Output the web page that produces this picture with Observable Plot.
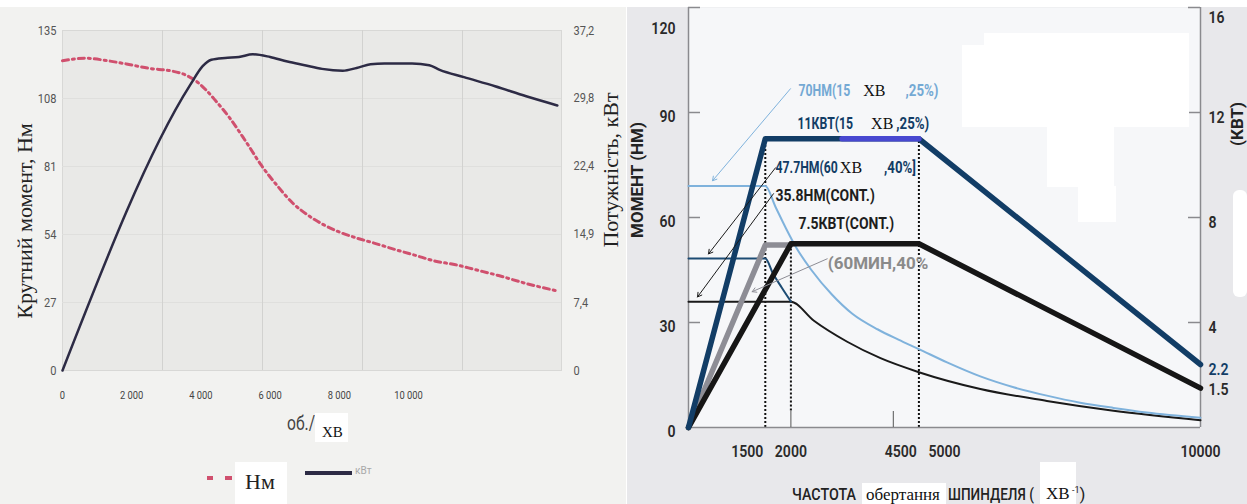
<!DOCTYPE html>
<html><head><meta charset="utf-8">
<script src="https://cdn.jsdelivr.net/npm/d3@7"></script>
<script src="https://cdn.jsdelivr.net/npm/@observablehq/plot@0.6"></script>
<style>
body{margin:0;background:#fff;}
#root{position:relative;width:1247px;height:504px;overflow:hidden;background:#fff;}
.abs{position:absolute;white-space:nowrap;line-height:1;}
.narrow{font-family:Roboto,"Liberation Sans",sans-serif;}
.serif{font-family:"Liberation Serif","DejaVu Serif",serif;}
.rot{transform:translate(-50%,-50%) rotate(-90deg);}
.cond{transform:scaleX(0.84);transform-origin:0 50%;}
.box{position:absolute;background:#fff;}
</style></head>
<body><div id="root">
<div id="left" style="position:absolute;left:0;top:7px;width:626px;height:497px"></div>
<div id="right" style="position:absolute;left:627px;top:7px;width:620px;height:497px"></div>
</div>
<script>
// ---------- LEFT CHART DATA ----------
const leftRpmTicks = [0, 2000, 4000, 6000, 8000, 10000];
const torqueTicks = [0, 27, 54, 81, 108, 135];
const powerTicks = [0, 7.4, 14.9, 22.4, 29.8, 37.2];
const leftGridRpm = [2890, 5780, 8670, 11560];
const torqueRpm = [0, 660, 1300, 1850, 2540, 3120, 3580, 3870, 4160, 4420, 4830, 5290, 5750, 6210, 6650, 7110, 7570, 8030, 8500, 9050, 9620, 10200, 10780, 11360, 11910, 12600, 13410, 14300];
const torqueNm = [123, 124, 123, 121.7, 119.9, 119, 117.2, 114.8, 111.2, 107.2, 100.3, 91.1, 81.4, 73.3, 66.5, 61.5, 57.7, 54.8, 52.6, 50.4, 48, 45.7, 43.4, 42, 40.1, 37.7, 34.5, 31.6];
const powerRpm = [0, 3700, 4050, 4300, 4700, 5100, 5500, 6000, 6500, 7000, 7500, 8100, 8500, 8900, 9300, 10100, 10600, 10900, 11600, 12500, 13400, 14300];
const powerKw = [0, 31.3, 33.3, 34.0, 34.2, 34.3, 34.6, 34.3, 33.8, 33.4, 33.0, 32.8, 33.1, 33.5, 33.6, 33.6, 33.4, 32.9, 32.1, 31.1, 30.0, 29.0];

// ---------- RIGHT CHART DATA ----------
const rightRpmTicksEnd = [1500, 4500];
const rightRpmTicksMid = [2000, 5000, 10000];
const rightMinorRpm = [2000, 4000];
const rightNmTicks = [0, 30, 60, 90, 120];
const rightKwTicks = [4, 8, 12, 16];
const s3PowerRpm = [0, 1500, 4500, 10000];
const s3PowerKw = [0, 11, 11, 2.4];
const s3HighlightRpm = [3000, 4500];
const s3HighlightKw = [11, 11];
const s6PowerRpm = [0, 1500, 2000];
const s6PowerKw = [0, 6.95, 6.95];
const s1PowerRpm = [0, 2000, 4500, 10000];
const s1PowerKw = [0, 7.0, 7.0, 1.5];
const s3TorqueRpm = [0, 1500, 1700, 1900, 2100, 2400, 2800, 3200, 3700, 4100, 4500, 5050, 5700, 6350, 7000, 7650, 8300, 8950, 10000];
const s3TorqueNm = [69, 69, 63, 57, 51.5, 45, 38, 32.5, 28, 25.1, 22.4, 18.6, 14.6, 11.5, 9.1, 7.1, 5.6, 4.3, 2.8];
const s6TorqueRpm = [0, 1500, 1650, 1820, 2000];
const s6TorqueNm = [48.3, 48.3, 44, 40, 36];
const s1TorqueRpm = [0, 2000, 2450, 3100, 3750, 4500, 5700, 7000, 8300, 10000];
const s1TorqueNm = [35.9, 35.9, 30.5, 24.5, 19.8, 15.8, 11, 7.6, 4.8, 2.1];
const guideRpm = [1500, 2000, 4500];
const guideTopKw = [11, 7.0, 11];
const guideBottomNm = [0, 4.7, 0];
const endLabelsKw = [2.2, 1.5];
const seriesNames = ["S3 power", "S3 torque", "S6 power", "S6 torque", "S1 power", "S1 torque"];
// annotations (anchored in rpm / Nm)
const noteText = ["70НМ(15 ХВ ,25%)", "11КВТ(15 ХВ,25%)", "47.7НМ(60ХВ ,40%]", "35.8НМ(CONT.)", "7.5КВТ(CONT.)", "(60МИН,40%"];
const noteSeries = ["S3 torque", "S3 power", "S6 torque", "S1 torque", "S1 power", "S6 power"];
const noteRpm = [2150, 2130, 1700, 1700, 2150, 2720];
const noteNm = [96.3, 86.9, 74.3, 66.3, 58.3, 46.9];
const arrowSeries = ["S3 torque", "S6 torque", "S1 torque", "S6 power"];
const arrowFromRpm = [1992, 1699, 1660, 2709];
const arrowFromNm = [96.8, 74.2, 66.8, 48.2];
const arrowToRpm = [469, 391, 176, 1244];
const arrowToNm = [70.5, 49.6, 37.3, 38.8];

const SANS = 'Roboto,"Liberation Sans",sans-serif';
const SERIF = '"Liberation Serif","DejaVu Serif",serif';
const rows = (xs, vs, series) => xs.map((x, i) => ({x, v: vs[i], series}));

// ---------- LEFT PLOT ----------
const KL = 135 / 37.2;
const fmtKw = v => (Math.abs(v) < 1e-9 ? "0" : (Math.round(v * 10) / 10).toFixed(1).replace(".", ","));
const leftPlot = Plot.plot({
  width: 626, height: 497,
  marginLeft: 62, marginRight: 65, marginTop: 23, marginBottom: 134,
  style: {background: "#f2f2f0", fontFamily: SANS, overflow: "visible"},
  x: {domain: [0, 14420]},
  y: {domain: [0, 135]},
  marks: [
    Plot.frame({fill: "#e9e9e7", stroke: "#d8d8d6"}),
    Plot.ruleY(torqueTicks.slice(1, -1), {stroke: "#dfdfdd"}),
    Plot.ruleX(leftGridRpm, {stroke: "#d2d2d0"}),
    Plot.axisY({ticks: torqueTicks, tickSize: 0, tickPadding: 6, fontSize: 13, fill: "#555", label: null}),
    Plot.axisY({anchor: "right", ticks: powerTicks.map(v => v * KL), tickFormat: d => fmtKw(d / KL), tickSize: 0, tickPadding: 12, fontSize: 13, fill: "#555", label: null}),
    Plot.axisX({ticks: leftRpmTicks, tickFormat: d => d3.format(",")(d).replace(/,/g, " "), tickSize: 0, tickPadding: 21, fontSize: 11, fill: "#444", label: null}),
    Plot.line(rows(torqueRpm, torqueNm, "Нм"), {x: "x", y: "v", stroke: "#d0506e", strokeWidth: 3, strokeDasharray: "6 4 2 4", curve: "monotone-x"}),
    Plot.line(rows(powerRpm, powerKw, "кВт"), {x: "x", y: d => d.v * KL, stroke: "#2d2b45", strokeWidth: 2.5, curve: "monotone-x"})
  ]
});
document.getElementById("left").appendChild(leftPlot);
d3.select(leftPlot).selectAll('g[aria-label$="tick label"] text').each(function () {
  const len = this.getComputedTextLength();
  this.setAttribute("textLength", len * 0.85);
  this.setAttribute("lengthAdjust", "spacingAndGlyphs");
});

// ---------- RIGHT PLOT ----------
const K = 120 / 16;
const colorRange = ["#123d66", "#7fb2dc", "#8d8d95", "#1d4c74", "#161616", "#1a1a1a"];
const textRange = ["#123d66", "#74a9d4", "#8a8a8a", "#123d66", "#1e1e1e", "#1e1e1e"];
const lineMarks = (xs, vs, s, w, isKw) =>
  Plot.line(rows(xs, vs, s), {x: "x", y: isKw ? (d => d.v * K) : "v", stroke: "series", strokeWidth: w, curve: isKw ? "linear" : "monotone-x"});
const tickText = {tickSize: 0, fontSize: 16, fontWeight: 600, fill: "#2a2a2a", label: null};
const rightPlot = Plot.plot({
  width: 620, height: 497,
  marginLeft: 61, marginRight: 47, marginTop: 0, marginBottom: 77,
  style: {background: "#e8e8eb", fontFamily: SANS, overflow: "visible"},
  x: {domain: [0, 10000]},
  y: {domain: [0, 120]},
  color: {type: "ordinal", domain: seriesNames, range: colorRange},
  marks: [
    Plot.frame({fill: "#f6f7f9", stroke: "none"}),
    // dotted guides
    Plot.ruleX(guideRpm.map((r, i) => ({r, top: guideTopKw[i] * K, bottom: guideBottomNm[i]})), {x: "r", y1: "bottom", y2: "top", stroke: "#111", strokeWidth: 2, strokeDasharray: "2 2"}),
    // axes lines and ticks
    Plot.ruleX([0, 10000], {stroke: "#8a8a8e", strokeWidth: 1.5}),
    Plot.ruleY([0], {stroke: "#8a8a8e", strokeWidth: 1.5}),
    Plot.ruleX(rightMinorRpm, {y1: 0, y2: 0, insetTop: -16, stroke: "#555", strokeWidth: 1}),
    Plot.ruleY(rightNmTicks.slice(1), {x1: 0, x2: 0, insetRight: -12, stroke: "#8a8a8e", strokeWidth: 1.5}),
    Plot.ruleY(rightKwTicks.map(v => v * K), {x1: 10000, x2: 10000, insetLeft: -12, stroke: "#8a8a8e", strokeWidth: 1.5}),
    Plot.axisY({...tickText, ticks: rightNmTicks.slice(0, -1), tickPadding: 13, dy: 4}),
    Plot.axisY({...tickText, ticks: rightNmTicks.slice(-1), tickPadding: 13, dy: 21}),
    Plot.axisY({...tickText, anchor: "right", ticks: rightKwTicks.slice(0, -1).map(v => v * K), tickFormat: d => String(Math.round(d / K)), tickPadding: 8, dy: 5}),
    Plot.axisY({...tickText, anchor: "right", ticks: rightKwTicks.slice(-1).map(v => v * K), tickFormat: d => String(Math.round(d / K)), tickPadding: 8, dy: 10}),
    Plot.axisY({...tickText, anchor: "right", ticks: [endLabelsKw[0] * K], tickFormat: d => (d / K).toFixed(1), tickPadding: 8, fill: "#123d66"}),
    Plot.axisY({...tickText, anchor: "right", ticks: [endLabelsKw[1] * K], tickFormat: d => (d / K).toFixed(1), tickPadding: 8, dy: 2}),
    Plot.axisX({...tickText, ticks: rightRpmTicksEnd, tickFormat: d => String(d), textAnchor: "end", dx: -2, tickPadding: 18}),
    Plot.axisX({...tickText, ticks: rightRpmTicksMid, tickFormat: d => String(d), tickPadding: 18}),
    // torque curves (thin)
    lineMarks(s1TorqueRpm, s1TorqueNm, "S1 torque", 2, false),
    lineMarks(s6TorqueRpm, s6TorqueNm, "S6 torque", 2, false),
    lineMarks(s3TorqueRpm, s3TorqueNm, "S3 torque", 2, false),
    // power curves (thick)
    lineMarks(s6PowerRpm, s6PowerKw, "S6 power", 5.5, true),
    lineMarks(s1PowerRpm, s1PowerKw, "S1 power", 5.5, true),
    lineMarks(s3PowerRpm, s3PowerKw, "S3 power", 5.5, true),
    Plot.line(rows(s3HighlightRpm, s3HighlightKw, "S3 power"), {x: "x", y: d => d.v * K, stroke: "#4848d0", strokeWidth: 5.5}),
    // arrows
    Plot.arrow(arrowSeries.map((s, i) => ({s, x1: arrowFromRpm[i], y1: arrowFromNm[i], x2: arrowToRpm[i], y2: arrowToNm[i]})),
      {x1: "x1", y1: "y1", x2: "x2", y2: "y2", stroke: d => d.s === "S1 torque" || d.s === "S6 torque" ? "S1 torque" : d.s, strokeWidth: 1, headLength: 7}),
    // annotation texts
    Plot.text(noteText.map((t, i) => ({t, s: noteSeries[i], x: noteRpm[i], y: noteNm[i]})),
      {x: "x", y: "y", text: "t", textAnchor: "start", fontSize: 17, fontWeight: "bold", fontFamily: SANS,
       fill: d => textRange[seriesNames.indexOf(d.s)]})
  ]
});
document.getElementById("right").appendChild(rightPlot);

// condense the sans-serif texts (the source uses a narrow face) and
// set the "ХВ" parts of the annotations in a serif face, as in the source
const squeezeEl = (el, f) => {
  const len = el.getComputedTextLength();
  el.setAttribute("textLength", len * f);
  el.setAttribute("lengthAdjust", "spacingAndGlyphs");
};
const unitLayout = {"70НМ(15 ХВ ,25%)": [13, 20], "11КВТ(15 ХВ,25%)": [18, 3], "47.7НМ(60ХВ ,40%]": [2, 22]};
d3.select(rightPlot).selectAll("text").each(function () {
  const t = this.textContent;
  const isTick = this.closest('g[aria-label$="tick label"]') !== null;
  if (t.includes("ХВ")) {
    const [head, tail] = t.split("ХВ").map(s => s.trim());
    const gaps = unitLayout[t] || [4, 4];
    this.textContent = "";
    const ns = "http://www.w3.org/2000/svg";
    const a = document.createElementNS(ns, "tspan"); a.textContent = head; this.appendChild(a);
    const b = document.createElementNS(ns, "tspan"); b.textContent = "ХВ";
    b.setAttribute("font-family", SERIF); b.setAttribute("font-weight", "normal"); b.setAttribute("font-size", 16);
    b.setAttribute("fill", "#111"); b.setAttribute("dx", gaps[0]); this.appendChild(b);
    const c = document.createElementNS(ns, "tspan"); c.textContent = tail; c.setAttribute("dx", gaps[1]); this.appendChild(c);
    squeezeEl(a, 0.72);
    squeezeEl(c, 0.78);
    return;
  }
  if (t === noteText[5]) return;
  squeezeEl(this, isTick ? 0.88 : 0.82);
});

// ---------- HTML titles, legend and overlays ----------
const root = document.getElementById("root");
function add(html) { root.insertAdjacentHTML("beforeend", html); }
// left chart titles
add(`<div class="abs serif rot" style="left:25px;top:221px;font-size:22px;color:#222">Крутний момент, Нм</div>`);
add(`<div class="abs serif rot" style="left:611px;top:170px;font-size:22px;color:#222">Потужність, кВт</div>`);
add(`<div class="abs narrow" style="left:287px;top:413px;font-size:20px;color:#444;transform:scaleX(0.78);transform-origin:0 50%">об./</div>`);
add(`<div class="box" style="left:315px;top:413px;width:33px;height:29px"></div>`);
add(`<div class="abs serif" style="left:322px;top:425px;font-size:15px;color:#111">ХВ</div>`);
// left legend
add(`<div class="box" style="left:207px;top:476px;width:6px;height:4px;background:#d0506e"></div>`);
add(`<div class="box" style="left:225px;top:476px;width:7px;height:4px;background:#d0506e"></div>`);
add(`<div class="box" style="left:235px;top:462px;width:52px;height:42px"></div>`);
add(`<div class="abs serif" style="left:245px;top:471px;font-size:22px;color:#222">Нм</div>`);
add(`<div class="box" style="left:305px;top:471px;width:47px;height:4px;background:#2d2b45"></div>`);
add(`<div class="abs narrow" style="left:355px;top:466px;font-size:10px;color:#a8a8a8">кВт</div>`);
// right chart titles
add(`<div class="abs narrow rot" style="left:637px;top:180px;font-size:17px;font-weight:bold;color:#222">МОМЕНТ (НМ)</div>`);
add(`<div class="abs narrow rot" style="left:1237px;top:124px;font-size:17px;font-weight:bold;color:#222">(КВТ)</div>`);
add(`<div class="box" style="left:1233px;top:190px;width:14px;height:107px;border-radius:6px"></div>`);
add(`<div class="abs narrow cond" style="left:792px;top:486px;font-size:17px;font-weight:500;color:#222">ЧАСТОТА</div>`);
add(`<div class="box" style="left:862px;top:483px;width:84px;height:21px"></div>`);
add(`<div class="abs serif" style="left:866px;top:486px;font-size:17px;color:#111">обертання</div>`);
add(`<div class="abs narrow" style="left:948px;top:486px;font-size:17px;font-weight:500;color:#222;transform:scaleX(0.8);transform-origin:0 50%">ШПИНДЕЛЯ (</div>`);
add(`<div class="box" style="left:1040px;top:462px;width:36px;height:42px"></div>`);
add(`<div class="abs serif" style="left:1046px;top:485px;font-size:17px;color:#111">ХВ</div>`);
add(`<div class="abs narrow" style="left:1072px;top:486px;font-size:17px;color:#222"><sup style="font-size:9px">-1</sup>)</div>`);
// white overlay patches inside the right plot
add(`<div class="box" style="left:984px;top:33px;width:205px;height:94px"></div>`);
add(`<div class="box" style="left:962px;top:45px;width:24px;height:82px"></div>`);
add(`<div class="box" style="left:1047px;top:126px;width:67px;height:61px"></div>`);
add(`<div class="box" style="left:1078px;top:186px;width:38px;height:36px"></div>`);
</script>
</body></html>
